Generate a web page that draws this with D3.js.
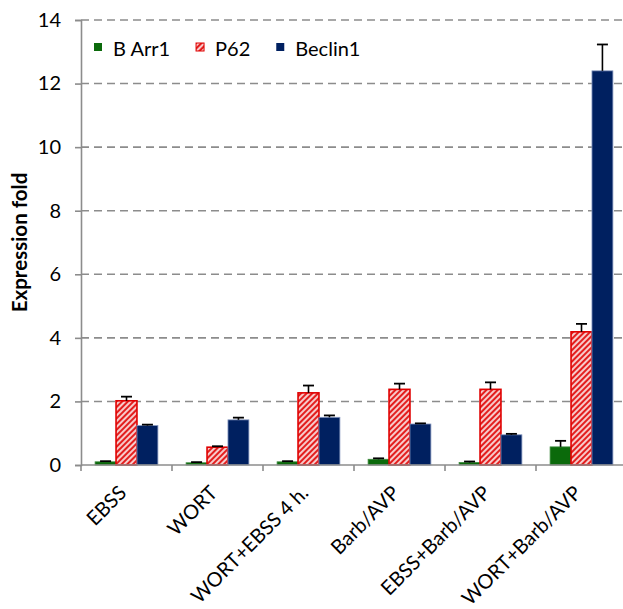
<!DOCTYPE html>
<html>
<head>
<meta charset="utf-8">
<script src="https://cdn.jsdelivr.net/npm/d3@7"></script>
<style>
  html, body { margin: 0; padding: 0; background: #fff; }
  svg { display: block; font-family: Lato, "Open Sans", sans-serif; }
</style>
</head>
<body>
<svg id="chart" width="623" height="609"></svg>
<script>
// Treatment groups along the x axis
const categories = ["EBSS", "WORT", "WORT+EBSS 4 h.", "Barb/AVP", "EBSS+Barb/AVP", "WORT+Barb/AVP"];
const seriesNames = ["B Arr1", "P62", "Beclin1"];

// Mean expression fold per group, with the upper error (SE) for each
const bArr1 = [0.10, 0.07, 0.10, 0.18, 0.08, 0.57];
const bArr1Err = [0.02, 0.02, 0.02, 0.03, 0.03, 0.19];
const p62 = [2.02, 0.56, 2.27, 2.38, 2.38, 4.19];
const p62Err = [0.13, 0.03, 0.23, 0.18, 0.22, 0.25];
const beclin1 = [1.24, 1.42, 1.50, 1.29, 0.95, 12.40];
const beclin1Err = [0.03, 0.07, 0.06, 0.02, 0.03, 0.83];

const yTicks = [0, 2, 4, 6, 8, 10, 12, 14];
const yLabel = "Expression fold";

const seriesValues = [bArr1, p62, beclin1];
const seriesErrors = [bArr1Err, p62Err, beclin1Err];

const svg = d3.select("#chart");
const plot = { left: 81, right: 627, top: 20, bottom: 465 };

const x = d3.scaleBand().domain(categories).range([plot.left, plot.right]).padding(0);
const xs = d3.scaleBand().domain(seriesNames)
  .range([x.bandwidth() * 0.155, x.bandwidth() * 0.845]).padding(0);
const y = d3.scaleLinear().domain([0, 14]).range([plot.bottom, plot.top]);

// hatch fill for P62
const defs = svg.append("defs");
const pat = defs.append("pattern")
  .attr("id", "hatch")
  .attr("patternUnits", "userSpaceOnUse")
  .attr("width", 4).attr("height", 4)
  .attr("patternTransform", "rotate(45)");
pat.append("rect").attr("width", 4).attr("height", 4).attr("fill", "#f7caca");
pat.append("rect").attr("width", 2).attr("height", 4).attr("fill", "#e31e1e");

const fills = ["#0b6a0b", "url(#hatch)", "#002060"];
const strokes = ["#3d8a3d", "#e00000", "#8496bf"];
const strokeW = [0.8, 1.6, 0.8];
const legendFills = ["#0b6a0b", "url(#hatch)", "#002060"];

// dashed gridlines
svg.append("g")
  .selectAll("line")
  .data(yTicks.filter(d => d > 0))
  .join("line")
  .attr("x1", plot.left).attr("x2", 623)
  .attr("y1", d => y(d)).attr("y2", d => y(d))
  .attr("stroke", "#8c8c8c")
  .attr("stroke-width", 1.6)
  .attr("stroke-dasharray", "8,5");

// y axis
const yAxis = svg.append("g")
  .attr("transform", `translate(${plot.left},0)`)
  .call(d3.axisLeft(y).tickValues(yTicks).tickSize(6).tickPadding(14).tickFormat(d3.format("d")));
yAxis.select(".domain").attr("stroke", "#8c8c8c").attr("stroke-width", 1.6);
yAxis.selectAll(".tick line").attr("stroke", "#8c8c8c").attr("stroke-width", 1.6);
yAxis.selectAll(".tick text")
  .attr("font-size", 20).attr("fill", "#000")
  .attr("font-family", "Lato, sans-serif");

// bars
const groups = svg.append("g")
  .selectAll("g")
  .data(categories)
  .join("g")
  .attr("transform", d => `translate(${x(d)},0)`);

seriesNames.forEach((s, si) => {
  groups.append("rect")
    .attr("x", xs(s))
    .attr("width", xs.bandwidth())
    .attr("y", (d, i) => y(seriesValues[si][i]))
    .attr("height", (d, i) => y(0) - y(seriesValues[si][i]))
    .attr("fill", fills[si])
    .attr("stroke", strokes[si])
    .attr("stroke-width", strokeW[si]);
});

// error bars (upper only)
seriesNames.forEach((s, si) => {
  const cx = xs(s) + xs.bandwidth() / 2;
  groups.append("line")
    .attr("x1", cx).attr("x2", cx)
    .attr("y1", (d, i) => y(seriesValues[si][i]))
    .attr("y2", (d, i) => y(seriesValues[si][i] + seriesErrors[si][i]))
    .attr("stroke", "#000").attr("stroke-width", 1.6);
  groups.append("line")
    .attr("x1", cx - 5.5).attr("x2", cx + 5.5)
    .attr("y1", (d, i) => y(seriesValues[si][i] + seriesErrors[si][i]))
    .attr("y2", (d, i) => y(seriesValues[si][i] + seriesErrors[si][i]))
    .attr("stroke", "#000").attr("stroke-width", 1.8);
});

// x axis
const xAxisG = svg.append("g");
xAxisG.append("line")
  .attr("x1", plot.left).attr("x2", 623)
  .attr("y1", y(0)).attr("y2", y(0))
  .attr("stroke", "#8c8c8c").attr("stroke-width", 1.6);
xAxisG.selectAll("line.tick")
  .data(categories)
  .join("line")
  .attr("class", "tick")
  .attr("x1", d => x(d)).attr("x2", d => x(d))
  .attr("y1", y(0)).attr("y2", y(0) + 6)
  .attr("stroke", "#8c8c8c").attr("stroke-width", 1.6);

xAxisG.selectAll("text")
  .data(categories)
  .join("text")
  .attr("transform", d => `translate(${x(d) + x.bandwidth() / 2 - 9},${y(0) + 19}) rotate(-45)`)
  .attr("text-anchor", "end")
  .attr("dy", "0.72em")
  .attr("font-size", 20)
  .attr("fill", "#000")
  .text(d => d);

// y axis title
svg.append("text")
  .attr("transform", `translate(19,${(y(0) + y(14)) / 2}) rotate(-90)`)
  .attr("text-anchor", "middle")
  .attr("dominant-baseline", "central")
  .attr("font-size", 20.5)
  .attr("font-weight", "bold")
  .attr("fill", "#000")
  .text(yLabel);

// legend
const legend = svg.append("g");
let lx = 94;
seriesNames.forEach((s, si) => {
  legend.append("rect")
    .attr("x", lx).attr("y", 43)
    .attr("width", 8).attr("height", 8)
    .attr("fill", legendFills[si])
    .attr("stroke", si === 1 ? "#e00000" : "none")
    .attr("stroke-width", 1);
  const t = legend.append("text")
    .attr("x", lx + 19).attr("y", 48)
    .attr("dominant-baseline", "central")
    .attr("font-size", 20)
    .attr("fill", "#000")
    .text(s);
  lx = lx + 19 + t.node().getComputedTextLength() + 26;
});
</script>
</body>
</html>
